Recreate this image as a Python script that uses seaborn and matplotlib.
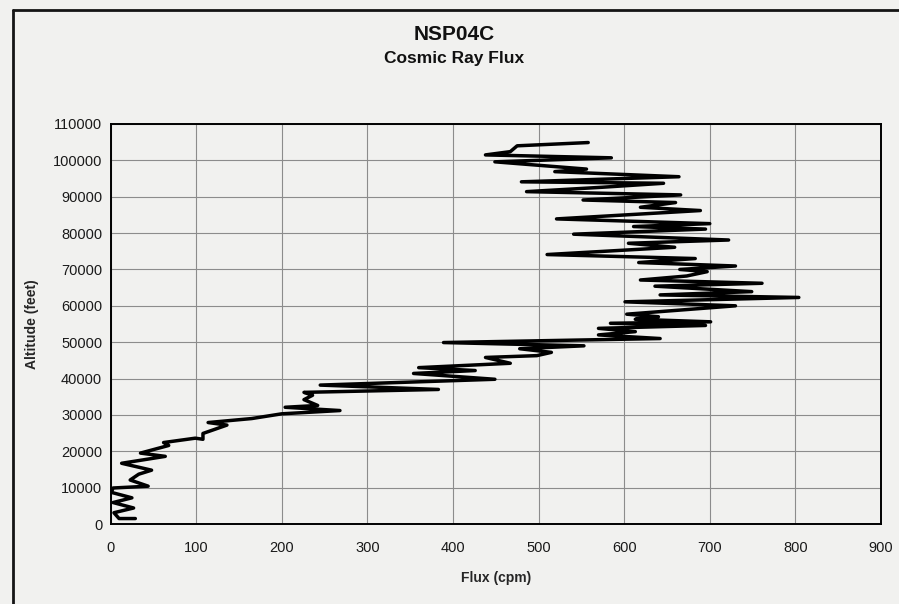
import matplotlib
matplotlib.use("Agg")
import matplotlib.pyplot as plt
from matplotlib.lines import Line2D
import seaborn as sns
import pandas as pd

# Balloon ascent: counter rate against altitude, in flight order
flux_cpm = [
    29, 10, 4, 27, 3, 25, 1, 3, 44, 23, 33, 48, 13, 64, 35, 68, 62,
    99, 108, 108, 136, 114, 165, 200,
    268, 204, 242, 226, 236, 226, 383, 245, 449, 354, 426, 360, 467,
    438, 498, 515, 478, 553, 389, 642,
    570, 613, 570, 695, 584, 701, 613, 640, 603, 730, 601, 804, 642, 749,
    636, 761, 619, 673, 697, 665, 730, 617, 683, 510, 659, 605, 722,
    541, 695, 611, 700, 521, 689, 619, 660, 552, 666, 486, 574, 646,
    480, 664, 519, 556, 449, 585, 438, 467, 475, 558,
]
altitude_ft = [
    1500, 1500, 3100, 4400, 5900, 7200, 8700, 9900, 10400, 12100, 13700,
    14800, 16700, 18600, 19500, 21600, 22400,
    23600, 23300, 24900, 27200, 27900, 29000, 30300,
    31200, 32100, 32600, 34200, 35400, 36200, 37000, 38200, 39800, 41400,
    42200, 43000, 44200, 45800, 46300, 47200, 48200, 49000, 49900, 51000,
    52000, 52900, 53800, 54600, 55200, 55600, 56300, 57000, 57700, 60000,
    61100, 62300, 63000, 63900, 65400, 66200, 67100, 68200, 69400, 70000,
    70950, 71900, 73000, 74100, 76100, 77200, 78100,
    79700, 81100, 81800, 82600, 83900, 86200, 87100, 88400, 89100, 90500,
    91400, 92600, 93700, 94100, 95500, 96900, 97600, 99600, 100700,
    101500, 102400, 104000, 104900,
]
x_ticks = list(range(0, 901, 100))
y_ticks = list(range(0, 110001, 10000))

df = pd.DataFrame({"Flux (cpm)": flux_cpm, "Altitude (feet)": altitude_ft})

sns.set_theme(style="white")
plt.rcParams["font.family"] = ["Liberation Sans", "DejaVu Sans"]

paper = "#f1f1ef"
fig = plt.figure(figsize=(8.99, 6.04), dpi=100, facecolor=paper)
ax = fig.add_axes([110.5 / 899, 80 / 604, 770.5 / 899, 400 / 604])
ax.set_facecolor(paper)

sns.lineplot(data=df, x="Flux (cpm)", y="Altitude (feet)", sort=False,
             estimator=None, color="black", linewidth=2.5, ax=ax)

ax.set_xlim(0, 900)
ax.set_ylim(0, 110000)
ax.set_xticks(x_ticks)
ax.set_yticks(y_ticks)
ax.set_xticklabels([str(v) for v in x_ticks])
ax.set_yticklabels([str(v) for v in y_ticks])
ax.grid(True, color="#8c8c8c", linewidth=0.8)
ax.set_axisbelow(True)
for s in ax.spines.values():
    s.set_color("black")
    s.set_linewidth(1.4)
ax.tick_params(axis="both", which="major", direction="out", length=4,
               width=0.8, color="#555555", labelsize=10.5, labelcolor="#1a1a1a")
ax.tick_params(axis="x", pad=8)
ax.tick_params(axis="y", pad=2)
ax.set_xlabel("Flux (cpm)", fontsize=10, fontweight="bold", labelpad=12)
ax.set_ylabel("Altitude (feet)", fontsize=10, fontweight="bold", labelpad=10)

fig.text(454 / 899, 1 - 35 / 604, "NSP04C", ha="center", va="center",
         fontsize=15, fontweight="bold", color="#111111")
fig.text(454 / 899, 1 - 58 / 604, "Cosmic Ray Flux", ha="center", va="center",
         fontsize=12.5, fontweight="bold", color="#111111")

# Chart frame
fig.add_artist(Line2D([13 / 899, 13 / 899], [-0.02, 1 - 10 / 604],
                      transform=fig.transFigure, color="#151515", linewidth=2))
fig.add_artist(Line2D([13 / 899, 1.02], [1 - 10 / 604, 1 - 10 / 604],
                      transform=fig.transFigure, color="#151515", linewidth=2))

fig.savefig("out.png", dpi=100, facecolor=paper)
